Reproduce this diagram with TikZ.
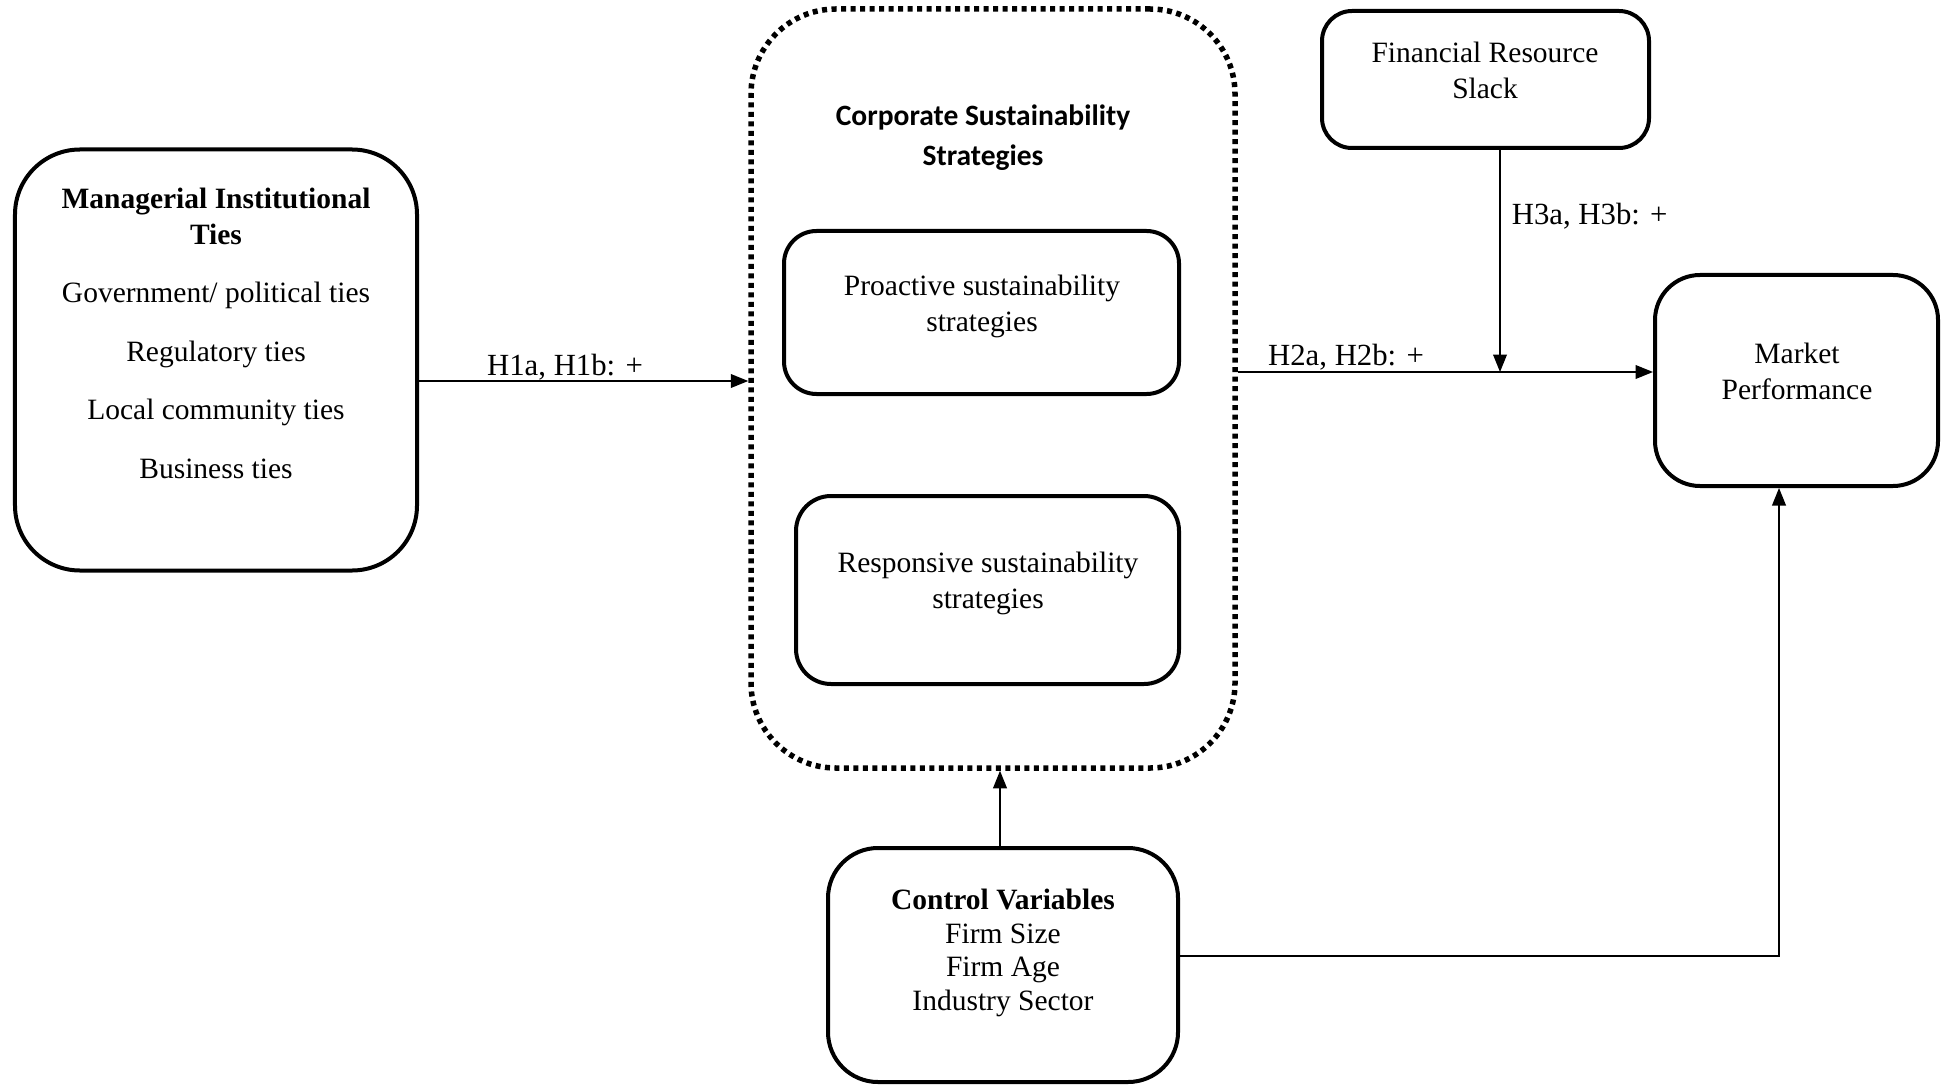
\documentclass[tikz,border=0pt]{standalone}
\usepackage{fontspec}
\setmainfont{Liberation Serif}
\newfontfamily\calibri{Carlito}
\usetikzlibrary{arrows.meta}

\begin{document}
\begin{tikzpicture}[x=0.4pt,y=-0.4pt,
    box/.style={draw,line width=1.6pt,inner sep=0pt},
    dotbox/.style={draw,line width=2.2pt,dash pattern=on 2pt off 1.8pt,rounded corners=34pt,inner sep=0pt},
    txt/.style={align=center,font=\fontsize{11.8}{14.4}\selectfont},
    lbl/.style={font=\fontsize{12.3}{15}\selectfont},
    arr/.style={line width=0.6pt,-{Triangle[length=7pt,width=5.5pt]}}]

  \useasboundingbox (0,0) rectangle (1944,1085);

  \begin{scope}[every node/.style={box}]
    \node[minimum width=160.8pt,minimum height=168.4pt,rounded corners=26pt] (mit) at (216,360) {};
    \node[minimum width=158pt,minimum height=65.2pt,rounded corners=13pt] (pro) at (981.5,312.5) {};
    \node[minimum width=153.2pt,minimum height=75.2pt,rounded corners=14pt] (res) at (987.5,590) {};
    \node[minimum width=130.8pt,minimum height=54.8pt,rounded corners=12pt] (frs) at (1485.5,79.5) {};
    \node[minimum width=113.2pt,minimum height=84.4pt,rounded corners=18pt] (mkt) at (1796.5,380.5) {};
    \node[minimum width=140pt,minimum height=93.6pt,rounded corners=20pt] (ctl) at (1003,965) {};
  \end{scope}
  \node[dotbox,minimum width=193.6pt,minimum height=303.6pt] (css) at (993,388.5) {};

  \node[txt] (mit-t) at (216,333) {\textbf{Managerial Institutional}\\\textbf{Ties}\\[9pt]Government/ political ties\\[9pt]Regulatory ties\\[9pt]Local community ties\\[9pt]Business ties};
  \node[txt,font=\calibri\bfseries\fontsize{11.8}{16}\selectfont] (css-t) at (983,138) {Corporate Sustainability\\Strategies};
  \node[txt] (pro-t) at (982,306) {Proactive sustainability\\strategies};
  \node[txt] (res-t) at (988,583) {Responsive sustainability\\strategies};
  \node[txt] (frs-t) at (1485,70) {Financial Resource\\Slack};
  \node[txt] (mkt-t) at (1797,371) {Market\\Performance};
  \node[txt,font=\fontsize{11.8}{13.5}\selectfont] (ctl-t) at (1003,953) {\textbf{Control Variables}\\Firm Size\\Firm Age\\Industry Sector};

  \coordinate (mod) at (1500,372);
  \draw[arr] (mit.east |- 0,381) -- (css.west |- 0,381);
  \node[lbl] (h1) at (565,367) {H1a, H1b: +};
  \draw[arr] (css.east |- 0,372) -- (mkt.west |- 0,372);
  \node[lbl] (h2) at (1346,357) {H2a, H2b: +};
  \draw[arr] (frs.south -| mod) -- (mod);
  \node[lbl,anchor=west] (h3) at (1503,216) {H3a, H3b: +};
  \draw[arr] (ctl.north -| 1000,0) -- (css.south -| 1000,0);
  \draw[arr] (ctl.east |- 0,956) -| (mkt.south -| 1779,0);

\end{tikzpicture}
\end{document}
